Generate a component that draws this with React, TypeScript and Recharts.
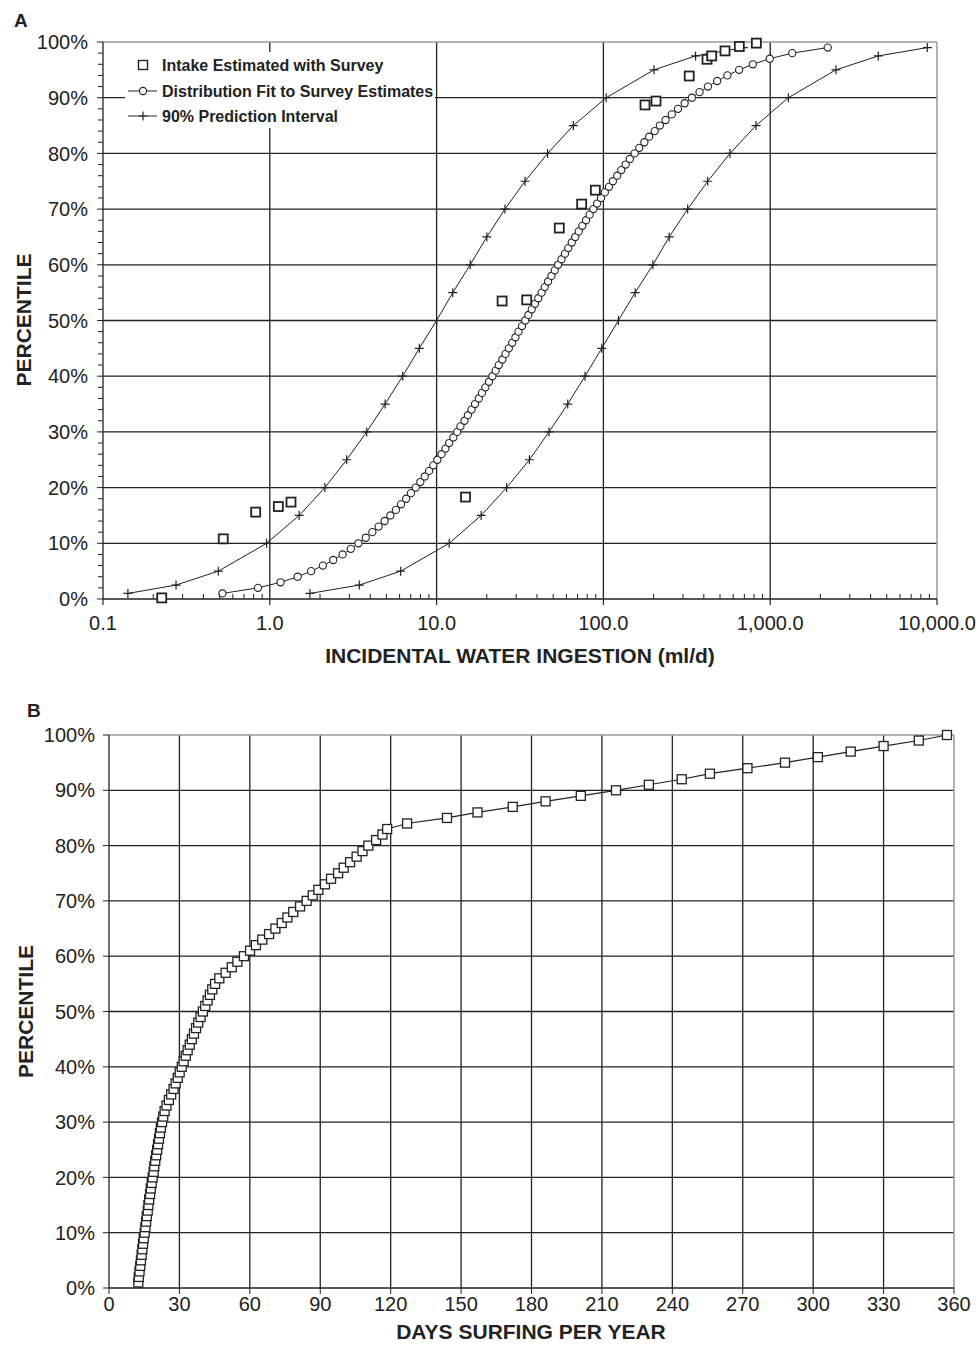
import React from "react";
import {
  ScatterChart,
  Scatter,
  XAxis,
  YAxis,
  CartesianGrid,
  ReferenceLine,
} from "recharts";

const FONT = '"Liberation Sans", Arial, Helvetica, sans-serif';
const INK = "#222";
const EDGE = "#9a9a9a";

// ---- panel A: incidental water ingestion (ml/d), log x axis
const surveyMl = [0.225, 0.526, 0.823, 1.125, 1.34, 14.9, 24.7, 34.7, 54.4, 74.1, 89.5, 177.6, 206.7, 327, 418, 446, 536, 653, 826];
const surveyPct = [0.2, 10.8, 15.6, 16.6, 17.4, 18.3, 53.5, 53.7, 66.6, 70.9, 73.4, 88.7, 89.4, 93.9, 96.9, 97.5, 98.4, 99.2, 99.8];

const fitPct = [
  1, 2, 3, 4, 5, 6, 7, 8, 9, 10, 11, 12, 13, 14, 15, 16, 17, 18, 19, 20,
  21, 22, 23, 24, 25, 26, 27, 28, 29, 30, 31, 32, 33, 34, 35, 36, 37, 38, 39, 40,
  41, 42, 43, 44, 45, 46, 47, 48, 49, 50, 51, 52, 53, 54, 55, 56, 57, 58, 59, 60,
  61, 62, 63, 64, 65, 66, 67, 68, 69, 70, 71, 72, 73, 74, 75, 76, 77, 78, 79, 80,
  81, 82, 83, 84, 85, 86, 87, 88, 89, 90, 91, 92, 93, 94, 95, 96, 97, 98, 99,
];
const fitMl = [
  0.52, 0.85, 1.16, 1.47, 1.77, 2.08, 2.4, 2.73, 3.06, 3.4, 3.76, 4.12, 4.49, 4.88, 5.28, 5.7, 6.12, 6.57, 7.02, 7.5,
  7.99, 8.49, 9.02, 9.56, 10.1, 10.7, 11.3, 11.9, 12.6, 13.3, 13.9, 14.7, 15.4, 16.2, 17.0, 17.9, 18.7, 19.6, 20.6, 21.6,
  22.6, 23.6, 24.8, 25.9, 27.1, 28.4, 29.7, 31.0, 32.5, 34.0, 35.5, 37.2, 38.9, 40.7, 42.6, 44.5, 46.6, 48.8, 51.1, 53.5,
  56.1, 58.8, 61.6, 64.6, 67.8, 71.2, 74.8, 78.7, 82.7, 87.1, 91.7, 96.7, 102, 108, 114, 121, 128, 136, 144, 154,
  164, 176, 188, 203, 218, 236, 257, 280, 307, 339, 377, 423, 481, 554, 651, 787, 994, 1356, 2212,
];

const piPct = [1, 2.5, 5, 10, 15, 20, 25, 30, 35, 40, 45, 50, 55, 60, 65, 70, 75, 80, 85, 90, 95, 97.5, 99];
const piLowMl = [0.141, 0.274, 0.491, 0.957, 1.5, 2.14, 2.89, 3.81, 4.91, 6.26, 7.88, 10.0, 12.5, 15.9, 20.0, 25.7, 33.9, 46.3, 66.0, 104, 201, 357, 690];
const piHighMl = [1.74, 3.44, 6.09, 11.9, 18.5, 26.3, 36.0, 47.2, 61.1, 77.6, 97.7, 123, 155, 198, 248, 320, 422, 574, 822, 1285, 2479, 4449, 8750];

const xMajorA = [0.1, 1, 10, 100, 1000, 10000];
const xMajorLabelsA = ["0.1", "1.0", "10.0", "100.0", "1,000.0", "10,000.0"];
const xMinorA = [
  0.2, 0.3, 0.4, 0.5, 0.6, 0.7, 0.8, 0.9,
  2, 3, 4, 5, 6, 7, 8, 9,
  20, 30, 40, 50, 60, 70, 80, 90,
  200, 300, 400, 500, 600, 700, 800, 900,
  2000, 3000, 4000, 5000, 6000, 7000, 8000, 9000,
];
const yTicksA = [
  0, 2, 4, 6, 8, 10, 12, 14, 16, 18, 20, 22, 24, 26, 28, 30, 32, 34, 36, 38, 40, 42, 44, 46, 48, 50,
  52, 54, 56, 58, 60, 62, 64, 66, 68, 70, 72, 74, 76, 78, 80, 82, 84, 86, 88, 90, 92, 94, 96, 98, 100,
];

// ---- panel B: days surfing per year
const surfPct = [
  1, 2, 3, 4, 5, 6, 7, 8, 9, 10, 11, 12, 13, 14, 15, 16, 17, 18, 19, 20,
  21, 22, 23, 24, 25, 26, 27, 28, 29, 30, 31, 32, 33, 34, 35, 36, 37, 38, 39, 40,
  41, 42, 43, 44, 45, 46, 47, 48, 49, 50, 51, 52, 53, 54, 55, 56, 57, 58, 59, 60,
  61, 62, 63, 64, 65, 66, 67, 68, 69, 70, 71, 72, 73, 74, 75, 76, 77, 78, 79, 80,
  81, 82, 83, 84, 85, 86, 87, 88, 89, 90, 91, 92, 93, 94, 95, 96, 97, 98, 99, 100,
];
const surfDays = [
  12.5, 12.7, 13.0, 13.3, 13.6, 13.9, 14.2, 14.5, 14.8, 15.2, 15.5, 15.8, 16.1, 16.5, 16.8, 17.1, 17.5, 17.8, 18.2, 18.6,
  19.0, 19.3, 19.7, 20.1, 20.5, 20.9, 21.3, 21.7, 22.1, 22.6, 23.1, 23.7, 24.5, 25.5, 26.5, 27.5, 28.4, 29.3, 30.1, 31.0,
  31.8, 32.7, 33.5, 34.4, 35.3, 36.2, 37.1, 38.0, 39.0, 40.0, 41.0, 42.0, 43.0, 44.0, 45.2, 47.0, 49.7, 52.3, 54.7, 57.5,
  60.1, 62.6, 65.3, 68.2, 70.9, 73.6, 76.0, 78.5, 81.4, 84.2, 86.8, 89.2, 92.0, 94.6, 97.6, 100.0, 102.7, 105.5, 108.0, 110.5,
  113.8, 116.5, 118.5, 127, 144, 157, 172, 186, 201, 216, 230, 244, 256, 272, 288, 302, 316, 330, 345, 357,
];
const xTicksB = [0, 30, 60, 90, 120, 150, 180, 210, 240, 270, 300, 330, 360];
const yTicksB = [0, 10, 20, 30, 40, 50, 60, 70, 80, 90, 100];
const gridPct = [10, 20, 30, 40, 50, 60, 70, 80, 90];

const zip = (xs: number[], ys: number[]) => xs.map((x, i) => ({ x, y: ys[i] }));

const surveyData = zip(surveyMl, surveyPct);
const fitData = zip(fitMl, fitPct);
const piLowData = zip(piLowMl, piPct);
const piHighData = zip(piHighMl, piPct);
const surfData = zip(surfDays, surfPct);

const squareShape = (size: number, sw: number) => (p: any) => (
  <rect x={p.cx - size / 2} y={p.cy - size / 2} width={size} height={size} fill="#fff" stroke={INK} strokeWidth={sw} />
);
const circleShape = (p: any) => (
  <circle cx={p.cx} cy={p.cy} r={3.6} fill="#fff" stroke={INK} strokeWidth={1.1} />
);
const plusShape = (p: any) => (
  <path d={`M${p.cx - 4.5},${p.cy}H${p.cx + 4.5}M${p.cx},${p.cy - 4.5}V${p.cy + 4.5}`} stroke={INK} strokeWidth={1.2} fill="none" />
);

const LogTickA = (props: any) => {
  const { x, y, payload } = props;
  const i = xMajorA.indexOf(payload.value);
  if (i < 0) {
    return <line x1={x} x2={x} y1={y} y2={y - 5} stroke={INK} strokeWidth={1} />;
  }
  return (
    <g>
      <line x1={x} x2={x} y1={y} y2={y + 6} stroke={INK} strokeWidth={1.2} />
      <text x={x} y={y + 17} dy="0.71em" textAnchor="middle" fill={INK} fontSize={20} fontFamily={FONT}>
        {xMajorLabelsA[i]}
      </text>
    </g>
  );
};

const PctTickA = (props: any) => {
  const { x, y, payload } = props;
  const major = payload.value % 10 === 0;
  return (
    <g>
      <line x1={x - (major ? 6 : 5)} x2={x} y1={y} y2={y} stroke={INK} strokeWidth={1} />
      {major && (
        <text x={x - 15} y={y} dy="0.355em" textAnchor="end" fill={INK} fontSize={20} fontFamily={FONT}>
          {`${payload.value}%`}
        </text>
      )}
    </g>
  );
};

function PanelA() {
  return (
    <ScatterChart width={980} height={680} margin={{ top: 42, right: 43, bottom: 41, left: 43 }}>
      <CartesianGrid stroke={INK} strokeWidth={1.3} horizontalValues={gridPct} verticalValues={[1, 10, 100, 1000]} />
      <XAxis
        type="number"
        dataKey="x"
        scale="log"
        domain={[0.1, 10000]}
        allowDataOverflow
        ticks={[...xMajorA, ...xMinorA]}
        interval={0}
        tick={LogTickA}
        tickLine={false}
        tickSize={0}
        tickMargin={0}
        height={40}
        axisLine={{ stroke: INK, strokeWidth: 1.3 }}
      />
      <YAxis
        type="number"
        dataKey="y"
        domain={[0, 100]}
        ticks={yTicksA}
        interval={0}
        tick={PctTickA}
        tickLine={false}
        tickSize={0}
        tickMargin={0}
        width={60}
        axisLine={{ stroke: INK, strokeWidth: 1.3 }}
      />
      <ReferenceLine y={100} stroke={EDGE} strokeWidth={1.5} />
      <ReferenceLine x={10000} stroke={EDGE} strokeWidth={1.5} />
      <Scatter data={piLowData} line={{ stroke: INK, strokeWidth: 1 }} shape={plusShape} isAnimationActive={false} />
      <Scatter data={piHighData} line={{ stroke: INK, strokeWidth: 1 }} shape={plusShape} isAnimationActive={false} />
      <Scatter data={fitData} line={{ stroke: INK, strokeWidth: 1 }} shape={circleShape} isAnimationActive={false} />
      <Scatter data={surveyData} shape={squareShape(9, 1.8)} isAnimationActive={false} />
    </ScatterChart>
  );
}

function PanelB() {
  return (
    <ScatterChart width={980} height={672} margin={{ top: 55, right: 26, bottom: 24, left: 49 }}>
      <CartesianGrid stroke={INK} strokeWidth={1.3} horizontalValues={gridPct} verticalValues={xTicksB.slice(1, -1)} />
      <XAxis
        type="number"
        dataKey="x"
        domain={[0, 360]}
        ticks={xTicksB}
        interval={0}
        tickSize={6}
        tickMargin={3}
        height={40}
        tick={{ fill: INK, fontSize: 20, fontFamily: FONT }}
        tickLine={{ stroke: INK }}
        axisLine={{ stroke: INK, strokeWidth: 1.3 }}
      />
      <YAxis
        type="number"
        dataKey="y"
        domain={[0, 100]}
        ticks={yTicksB}
        interval={0}
        tickSize={6}
        tickMargin={8}
        width={60}
        tickFormatter={(v: number) => `${v}%`}
        tick={{ fill: INK, fontSize: 20, fontFamily: FONT }}
        tickLine={{ stroke: INK }}
        axisLine={{ stroke: INK, strokeWidth: 1.3 }}
      />
      <ReferenceLine y={100} stroke={EDGE} strokeWidth={1.5} />
      <ReferenceLine x={360} stroke={EDGE} strokeWidth={1.5} />
      <Scatter data={surfData} line={{ stroke: INK, strokeWidth: 1.2 }} shape={squareShape(9, 1.3)} isAnimationActive={false} />
    </ScatterChart>
  );
}

export default function App() {
  const bold = { fontFamily: FONT, fontWeight: 700, fill: INK } as const;
  return (
    <div style={{ position: "absolute", left: 0, top: 0, width: 980, height: 1352, background: "#fff" }}>
      <div style={{ position: "absolute", left: 0, top: 0 }}>
        <PanelA />
      </div>
      <div style={{ position: "absolute", left: 0, top: 680 }}>
        <PanelB />
      </div>
      <svg width={980} height={1352} style={{ position: "absolute", left: 0, top: 0, pointerEvents: "none" }}>
        <text x={14} y={27} fontSize={19} {...bold}>A</text>
        <text x={27} y={717} fontSize={19} {...bold}>B</text>
        <text transform="translate(30.5,320) rotate(-90)" textAnchor="middle" fontSize={21} {...bold}>PERCENTILE</text>
        <text transform="translate(32.5,1011.5) rotate(-90)" textAnchor="middle" fontSize={21} {...bold}>PERCENTILE</text>
        <text x={520} y={662.5} textAnchor="middle" fontSize={21} {...bold}>INCIDENTAL WATER INGESTION (ml/d)</text>
        <text x={531} y={1338.5} textAnchor="middle" fontSize={21} {...bold}>DAYS SURFING PER YEAR</text>

        <rect x={125} y={52} width={310} height={76} fill="#fff" />
        <rect x={138.5} y={60.5} width={9} height={9} fill="#fff" stroke={INK} strokeWidth={1.4} />
        <line x1={128} x2={157} y1={91} y2={91} stroke={INK} strokeWidth={1} />
        <circle cx={143} cy={91} r={3.6} fill="#fff" stroke={INK} strokeWidth={1.1} />
        <line x1={128} x2={157} y1={116} y2={116} stroke={INK} strokeWidth={1} />
        <path d="M138.5,116H147.5M143,111.5V120.5" stroke={INK} strokeWidth={1.2} />
        <text x={162} y={70.7} fontSize={16} {...bold}>Intake Estimated with Survey</text>
        <text x={162} y={96.5} fontSize={16} {...bold}>Distribution Fit to Survey Estimates</text>
        <text x={162} y={121.5} fontSize={16} {...bold}>90% Prediction Interval</text>
      </svg>
    </div>
  );
}
